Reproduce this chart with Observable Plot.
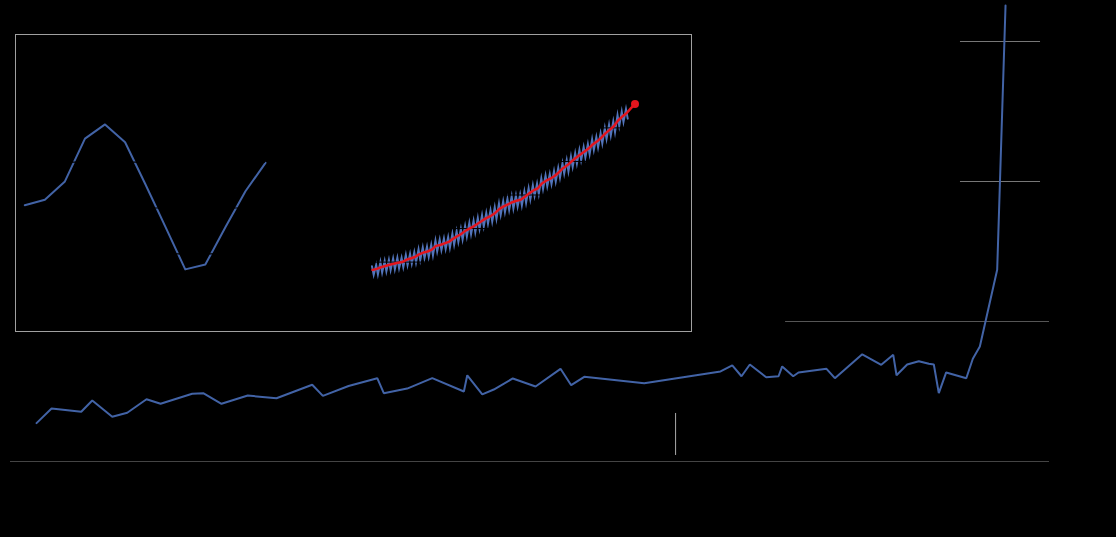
<!DOCTYPE html>
<html><head><meta charset="utf-8">
<script src="https://cdn.jsdelivr.net/npm/d3@7"></script>
<script src="https://cdn.jsdelivr.net/npm/@observablehq/plot@0.6"></script>
<style>
html,body{margin:0;padding:0;background:#000;}
#chart{position:relative;width:1116px;height:537px;background:#000;overflow:hidden;}
#chart svg{position:absolute;left:0;top:0;max-width:none;}
</style></head><body><div id="chart"></div>
<script>
// ---- Main long-term series (time in kyr before present, value in index units)
const mainTime = [-800,-787.6,-763.1,-754.0,-737.5,-725.1,-709.2,-697.6,-671.5,-662.4,-647.3,-625.6,-601.9,-572.4,-563.6,-542.4,-518.7,-513.3,-494.0,-473.3,-447.2,-444.4,-432.0,-422.5,-406.8,-388.0,-367.4,-358.6,-347.8,-298.3,-235.3,-225.6,-218.0,-211.1,-197.6,-187.4,-184.4,-175.3,-170.9,-147.8,-140.9,-118.3,-102.6,-92.7,-90.0,-81.2,-71.6,-63.3,-59.2,-55.1,-49.0,-32.4,-27.0,-21.2,-6.9,0];
const mainValue = [27.4,37.9,35.5,43.6,32.0,34.8,44.5,41.2,48.4,48.8,41.2,47.1,45.2,54.8,46.9,53.9,59.5,48.8,52.1,59.5,50.0,61.6,47.9,51.4,59.3,53.6,66.2,54.5,60.5,55.9,64.3,68.6,60.9,69.3,60.2,60.9,67.9,60.9,63.6,66.2,59.5,76.6,69.1,76.2,61.6,69.3,71.6,69.8,69.3,48.8,63.6,59.5,73.4,82.1,136.9,325.7];
const mainGrid = [0, 100, 200, 300];
const markerTime = [-272.4];

// ---- Inset A: seasonal cycle (month index, ppm anomaly)
const monthIndex = [0,1,2,3,4,5,6,7,8,9,10,11,12];
const seasonalAnomaly = [0.12,0.36,1.16,3.03,3.65,2.87,1.06,-0.80,-2.68,-2.47,-0.84,0.73,1.97];
const seasonalGrid = [-2, 0, 2, 4];

// ---- Inset B: Keeling curve (ppm)
const keelingYears = [1958,1959,1960,1961,1962,1963,1964,1965,1966,1967,1968,1969,1970,1971,1972,1973,1974,1975,1976,1977,1978,1979,1980,1981,1982,1983,1984,1985,1986,1987,1988,1989,1990,1991,1992,1993,1994,1995,1996,1997,1998,1999,2000,2001,2002,2003,2004,2005,2006,2007,2008,2009,2010,2011,2012,2013,2014,2015,2016,2017,2018];
const keelingMayPeak = [317.5,318.3,320.0,320.6,321.3,322.1,322.6,322.6,324.3,324.9,325.9,327.6,328.7,329.2,330.4,332.8,333.4,334.0,334.9,336.9,338.4,339.8,341.5,343.3,344.6,346.3,347.9,349.3,350.8,352.6,354.9,356.2,357.6,359.2,359.7,360.3,362.1,364.0,365.7,366.8,369.9,371.6,372.5,374.2,376.2,378.9,380.8,382.9,384.9,386.9,388.6,390.3,393.2,394.5,396.8,399.8,401.9,403.9,407.6,409.7,411.2];
const keelingAutumnLow = [312.4,312.7,313.8,314.5,315.3,315.8,316.4,317.0,318.2,319.1,319.8,321.3,322.5,323.1,324.1,326.4,327.2,327.9,328.6,330.4,332.1,333.5,335.3,336.7,337.9,339.8,341.3,343.0,344.2,345.9,348.2,349.9,351.1,352.0,353.2,353.9,355.5,357.5,359.5,360.7,363.6,365.2,366.6,368.1,370.3,372.8,374.1,376.8,378.8,380.8,382.5,384.4,386.9,388.5,390.8,393.5,395.5,397.6,401.2,403.6,405.5];
const trendYears = [1958,1959,1960,1961,1962,1963,1964,1965,1966,1967,1968,1969,1970,1971,1972,1973,1974,1975,1976,1977,1978,1979,1980,1981,1982,1983,1984,1985,1986,1987,1988,1989,1990,1991,1992,1993,1994,1995,1996,1997,1998,1999,2000,2001,2002,2003,2004,2005,2006,2007,2008,2009,2010,2011,2012,2013,2014,2015,2016,2017,2018,2019,2020];
const trendMean = [315.3,315.97,316.91,317.64,318.45,318.99,319.62,320.04,321.37,322.18,323.05,324.62,325.68,326.32,327.46,329.68,330.19,331.12,332.03,333.84,335.41,336.84,338.76,340.12,341.48,343.15,344.85,346.35,347.61,349.31,351.69,353.20,354.45,355.70,356.54,357.21,358.96,360.97,362.74,363.88,366.84,368.54,369.71,371.32,373.45,375.98,377.70,379.98,382.09,384.02,385.83,387.64,390.10,391.85,394.06,396.74,398.81,401.01,404.41,406.76,408.72,411.66,414.24];
const keelingGrid = [320, 340, 360, 380, 400];

const BLUE = "#4263a6";
const chart = document.getElementById("chart");

// Main chart
const mainData = mainTime.map((t, i) => ({t, v: mainValue[i]}));
const main = Plot.plot({
  width: 1116, height: 537,
  marginLeft: 10, marginRight: 67, marginTop: 41, marginBottom: 76,
  x: {domain: [-821.5, 36.3], axis: null},
  y: {domain: [0, 300], axis: null},
  style: {background: "#000", overflow: "visible"},
  marks: [
    Plot.ruleY([mainGrid[0]], {stroke: "#444", strokeWidth: 1}),
    Plot.ruleY([mainGrid[1]], {x1: -181.6, x2: 36.3, stroke: "#555", strokeWidth: 1}),
    Plot.ruleY(mainGrid.slice(2), {x1: -37.2, x2: 28.9, stroke: "#777", strokeWidth: 1}),
    Plot.line(mainData, {x: "t", y: "v", stroke: BLUE, strokeWidth: 2, strokeLinejoin: "miter"}),
    Plot.ruleX(markerTime, {y1: 4.3, y2: 34.3, stroke: "#aaa", strokeWidth: 1})
  ]
});
chart.appendChild(main);

// Inset frame
const frame = Plot.plot({
  width: 678, height: 299,
  marginLeft: 1, marginRight: 1, marginTop: 1, marginBottom: 1,
  style: {background: "#000"},
  marks: [Plot.frame({stroke: "#a0a0a0", strokeWidth: 1})]
});
frame.style.left = "14px"; frame.style.top = "33px";
chart.appendChild(frame);

// Inset A: seasonal cycle
const seasonData = monthIndex.map((m, i) => ({m, v: seasonalAnomaly[i]}));
const season = Plot.plot({
  width: 1116, height: 537,
  marginLeft: 24.3, marginRight: 851, marginTop: 161.7, marginBottom: 283.7,
  x: {domain: [0, 12], axis: null},
  y: {domain: [-2, 2], axis: null},
  style: {background: "transparent", overflow: "visible"},
  marks: [
    Plot.line(seasonData, {x: "m", y: "v", stroke: BLUE, strokeWidth: 2}),
    Plot.ruleY(seasonalGrid, {stroke: "#000", strokeWidth: 1.2})
  ]
});
chart.appendChild(season);

// Inset B: Keeling curve
const saw = [];
keelingYears.forEach((yr, i) => {
  saw.push({t: yr + 0.37, v: keelingMayPeak[i]});
  saw.push({t: yr + 0.78, v: keelingAutumnLow[i]});
});
const trend = trendYears.map((yr, i) => ({t: yr + 0.5, v: trendMean[i]}));
const keeling = Plot.plot({
  width: 1116, height: 537,
  marginLeft: 372, marginRight: 481.5, marginTop: 127.4, marginBottom: 275.4,
  x: {domain: [1958.5, 2020.5], axis: null},
  y: {domain: [320, 400], axis: null},
  style: {background: "transparent", overflow: "visible"},
  marks: [
    Plot.line(saw, {x: "t", y: "v", stroke: "#5274bb", strokeWidth: 2, strokeLinejoin: "miter", strokeMiterlimit: 10}),
    Plot.ruleY(keelingGrid, {stroke: "#000", strokeWidth: 1}),
    Plot.line(trend, {x: "t", y: "v", stroke: "#e3151d", strokeWidth: 2.5}),
    Plot.dot(trend.slice(-1), {x: "t", y: "v", r: 4, fill: "#e3151d"})
  ]
});
chart.appendChild(keeling);
</script></body></html>
